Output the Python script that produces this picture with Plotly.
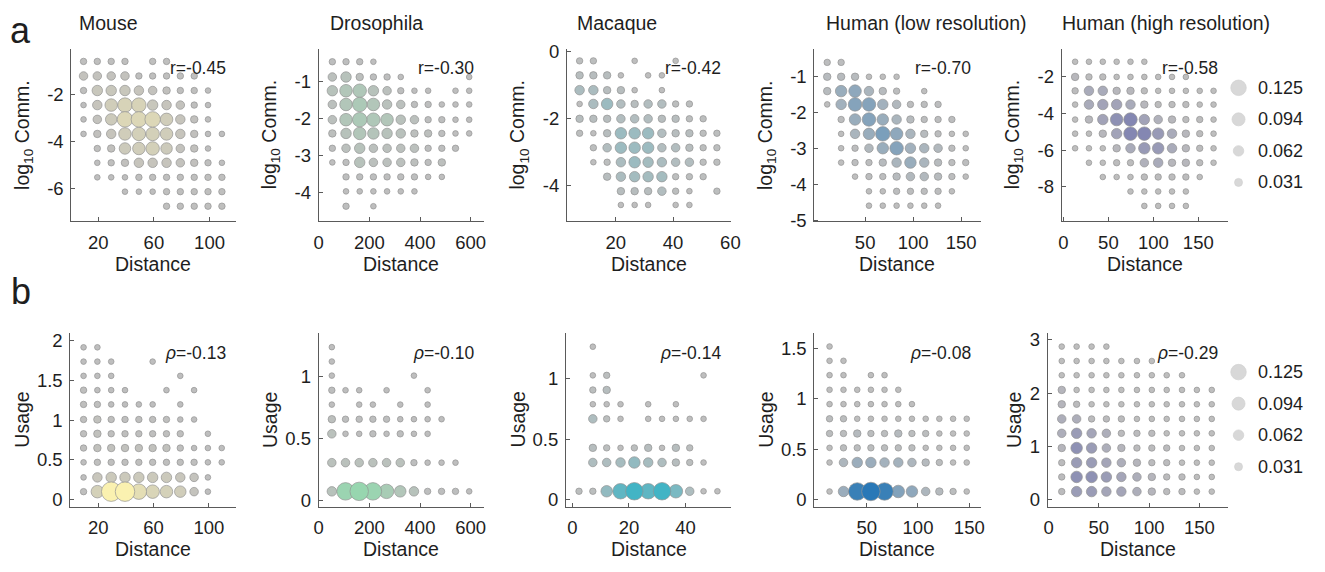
import plotly.graph_objects as go

N = None
W, H = 1325, 572

# ---------------- data ----------------
# bin centres along distance, bin centres of the y variable (top to bottom)
# and the share of node pairs falling in each cell (percent, None = empty)

species = ["Mouse", "Drosophila", "Macaque", "Human (low resolution)", "Human (high resolution)"]
comm_r = ["-0.45", "-0.30", "-0.42", "-0.70", "-0.58"]
usage_rho = ["-0.13", "-0.10", "-0.14", "-0.08", "-0.29"]
legend_values = [0.125, 0.094, 0.062, 0.031]

# --- communicability (row a) ---
mouse_comm_x = [9.4, 19.3, 29.3, 39.2, 49.2, 59.1, 69.1, 79.0, 89.0, 98.9, 108.9]
mouse_comm_y = [-0.60, -1.22, -1.84, -2.46, -3.07, -3.69, -4.31, -4.92, -5.54, -6.15, -6.77]
mouse_comm_p = [
    [1.2, 1.2, 1.2, 1.2, N, 1.2, 1.2, N, N, N, N],
    [3.8, 3.8, 3.8, 3.8, 1.2, 1.2, 1.2, 1.2, 1.2, N, N],
    [1.2, 6.2, 6.2, 6.2, 5.0, 3.8, 2.5, 1.2, 1.2, 0.2, N],
    [0.2, 5.0, 8.8, 11.2, 11.2, 6.2, 5.0, 3.8, 1.2, 0.2, N],
    [0.2, 3.8, 7.5, 12.5, 12.5, 12.5, 8.8, 5.0, 2.5, 0.2, N],
    [0.2, 2.5, 5.0, 8.8, 10.0, 10.0, 8.8, 5.0, 2.5, 0.2, 0.2],
    [N, 1.2, 2.5, 7.5, 8.8, 10.0, 7.5, 3.8, 2.5, 0.2, N],
    [N, 0.2, 1.2, 2.5, 5.0, 5.0, 5.0, 3.8, 2.5, 1.2, 0.2],
    [N, 0.2, 0.2, 0.2, 1.2, 1.2, 1.2, 1.2, 1.2, 1.2, 1.2],
    [N, N, N, 0.2, 0.2, 0.2, 1.2, 1.2, 1.2, 1.2, 1.2],
    [N, N, N, N, N, N, 1.2, 1.2, 1.2, 1.2, 1.2],
]

fly_comm_x = [54, 108, 162, 216, 270, 324, 378, 432, 486, 540, 594]
fly_comm_y = [-0.48, -0.89, -1.26, -1.63, -2.04, -2.41, -2.81, -3.19, -3.58, -3.97, -4.37]
fly_comm_p = [
    [1.2, 1.2, 1.2, 0.2, N, N, N, N, N, N, N],
    [3.8, 6.2, 2.5, 1.2, 1.2, 0.2, N, N, N, N, 0.2],
    [6.2, 8.8, 10.0, 6.2, 3.8, 1.2, 0.2, 0.2, N, 0.2, 0.2],
    [3.8, 8.8, 11.2, 8.8, 5.0, 3.8, 1.2, 1.2, 0.2, 0.2, 0.2],
    [3.8, 8.8, 11.2, 10.0, 8.8, 5.0, 3.8, 1.2, 1.2, 0.2, 0.2],
    [2.5, 6.2, 8.8, 7.5, 6.2, 5.0, 2.5, 2.5, 1.2, 0.2, 0.2],
    [1.2, 3.8, 6.2, 3.8, 3.8, 3.8, 3.8, 1.2, 1.2, 1.2, N],
    [0.2, 1.2, 6.2, 3.8, 3.8, 3.8, 2.5, 1.2, 2.5, N, N],
    [N, 1.2, 1.2, 1.2, 1.2, 1.2, 1.2, 0.2, 0.2, N, N],
    [N, 0.2, 0.2, 0.2, 0.2, 0.2, 0.2, N, N, N, N],
    [N, 1.2, N, 0.2, N, N, N, N, N, N, N],
]

macaque_comm_x = [7.4, 12.2, 17.0, 21.8, 26.6, 31.3, 36.1, 40.9, 45.7, 50.5, 55.3]
macaque_comm_y = [-0.29, -0.72, -1.16, -1.57, -2.01, -2.44, -2.87, -3.30, -3.73, -4.16, -4.57]
macaque_comm_p = [
    [1.2, 1.2, N, N, 0.2, N, N, 0.2, N, N, N],
    [2.5, 2.5, 2.5, 0.2, N, 0.2, 0.2, N, N, N, N],
    [5.0, 5.0, 2.5, 2.5, 0.2, N, 0.2, N, N, N, N],
    [0.2, 5.0, 7.5, 3.8, 2.5, 3.8, 3.8, 1.2, 1.2, N, N],
    [2.5, 2.5, 2.5, 3.8, 3.8, 3.8, 2.5, 2.5, 1.2, 1.2, N],
    [1.2, 0.2, 2.5, 7.5, 7.5, 7.5, 3.8, 2.5, 2.5, 1.2, 1.2],
    [N, 1.2, 3.8, 7.5, 7.5, 7.5, 3.8, 3.8, 2.5, 1.2, 1.2],
    [N, 0.2, 1.2, 5.0, 7.5, 6.2, 5.0, 3.8, 3.8, 1.2, 1.2],
    [N, N, 2.5, 5.0, 6.2, 6.2, 6.2, 1.2, 1.2, 1.2, N],
    [N, N, N, 2.5, 2.5, 2.5, 3.8, 1.2, 0.2, N, 1.2],
    [N, N, N, 0.2, 0.2, 0.2, N, 0.2, 0.2, N, N],
]

humlo_comm_x = [10.5, 25.0, 39.5, 54.0, 68.4, 82.8, 97.2, 111.6, 126.0, 140.4, 154.8]
humlo_comm_y = [-0.60, -1.00, -1.40, -1.77, -2.19, -2.59, -2.99, -3.39, -3.78, -4.19, -4.59]
humlo_comm_p = [
    [1.2, 1.2, N, N, N, N, N, N, N, N, N],
    [2.5, 2.5, 2.5, 0.2, 0.2, 0.2, N, N, N, N, N],
    [2.5, 7.5, 8.8, 5.0, 2.5, 1.2, N, 0.2, N, N, N],
    [0.2, 6.2, 10.0, 10.0, 6.2, 3.8, 1.2, 1.2, 1.2, N, N],
    [N, 1.2, 7.5, 10.0, 7.5, 5.0, 2.5, 1.2, 1.2, 1.2, N],
    [N, 0.2, 5.0, 7.5, 11.2, 8.8, 5.0, 2.5, 1.2, 0.2, 0.2],
    [N, 0.2, 1.2, 3.8, 7.5, 10.0, 6.2, 5.0, 3.8, 1.2, 0.2],
    [N, 0.2, 1.2, 1.2, 2.5, 5.0, 7.5, 5.0, 2.5, 1.2, 1.2],
    [N, N, 0.2, 1.2, 1.2, 2.5, 3.8, 3.8, 2.5, 1.2, 0.2],
    [N, N, N, 0.2, 0.2, 1.2, 1.2, 1.2, 1.2, 0.2, N],
    [N, N, N, 0.2, 0.2, 0.2, 0.2, 0.2, 0.2, N, N],
]

humhi_comm_x = [13.0, 28.4, 43.8, 59.2, 74.6, 90.0, 105.4, 120.8, 136.2, 151.6, 167.0]
humhi_comm_y = [-1.17, -2.00, -2.76, -3.51, -4.33, -5.10, -5.90, -6.69, -7.47, -8.26, -9.05]
humhi_comm_p = [
    [0.2, 0.2, 0.2, 0.2, 0.2, 0.2, N, N, N, N, N],
    [2.5, 1.2, 1.2, 0.2, 0.2, 0.2, 0.2, 0.2, 0.2, N, N],
    [1.2, 5.0, 5.0, 2.5, 2.5, 1.2, 0.2, 0.2, 0.2, 0.2, 0.2],
    [0.2, 5.0, 6.2, 6.2, 5.0, 2.5, 1.2, 1.2, 1.2, 0.2, 0.2],
    [0.2, 2.5, 6.2, 8.8, 10.0, 6.2, 3.8, 2.5, 1.2, 1.2, 0.2],
    [0.2, 0.2, 2.5, 6.2, 10.0, 10.0, 7.5, 5.0, 2.5, 1.2, 0.2],
    [0.2, 0.2, 0.2, 2.5, 5.0, 7.5, 7.5, 5.0, 2.5, 1.2, 0.2],
    [N, 0.2, 0.2, 1.2, 1.2, 3.8, 5.0, 2.5, 2.5, 1.2, 0.2],
    [N, N, 0.2, 0.2, 0.2, 1.2, 1.2, 1.2, 1.2, 0.2, N],
    [N, N, N, N, 0.2, 0.2, 0.2, 0.2, 0.2, N, N],
    [N, N, N, N, N, 0.2, 0.2, 0.2, 0.2, N, N],
]

# --- usage (row b) ---
mouse_use_x = [9.3, 19.3, 29.3, 39.3, 49.3, 59.3, 69.3, 79.3, 89.3, 99.3, 109.3]
mouse_use_y = [1.92, 1.74, 1.56, 1.38, 1.20, 1.01, 0.83, 0.65, 0.47, 0.28, 0.10]
mouse_use_p = [
    [0.2, 0.2, N, N, N, N, N, N, N, N, N],
    [0.2, 0.2, 0.2, N, N, 0.2, N, N, N, N, N],
    [0.2, 0.2, 0.2, N, N, N, N, 0.2, N, N, N],
    [1.2, 0.2, 0.2, 0.2, N, N, 0.2, N, 0.2, N, N],
    [1.2, 1.2, 0.2, 0.2, 0.2, 0.2, N, 0.2, N, N, N],
    [1.2, 2.5, 1.2, 1.2, 1.2, 1.2, 1.2, 0.2, 0.2, N, N],
    [1.2, 2.5, 1.2, 1.2, 1.2, 1.2, 1.2, 1.2, N, 0.2, N],
    [1.2, 2.5, 2.5, 2.5, 2.5, 2.5, 2.5, 1.2, 0.2, 0.2, 0.2],
    [0.2, 1.2, 1.2, 1.2, 1.2, 1.2, 1.2, 1.2, 1.2, 0.2, 0.2],
    [0.2, 5.0, 6.2, 6.2, 6.2, 6.2, 6.2, 5.0, 3.8, 0.2, N],
    [1.2, 8.8, 17.5, 17.5, 12.5, 10.0, 8.8, 7.5, 3.8, 0.2, N],
]

fly_use_x = [52, 106, 160, 214, 268, 322, 376, 430, 485, 540, 594]
fly_use_y = [1.236, 1.120, 1.006, 0.888, 0.772, 0.654, 0.536, 0.303, 0.071]
fly_use_p = [
    [0.2, N, N, N, N, N, N, N, N, N, N],
    [0.2, N, N, N, N, N, N, N, N, N, N],
    [0.2, N, N, N, N, N, 0.2, N, N, N, N],
    [1.2, 0.2, 0.2, N, 0.2, N, N, 0.2, N, N, N],
    [0.2, N, 0.2, 0.2, N, 0.2, N, 0.2, N, N, N],
    [2.5, 1.2, 1.2, 1.2, 1.2, 0.2, 0.2, 0.2, 0.2, N, N],
    [3.8, 0.2, 0.2, 1.2, 0.2, 1.2, 0.2, 0.2, N, N, N],
    [3.8, 3.8, 3.8, 3.8, 3.8, 3.8, 1.2, 0.2, 0.2, 0.2, N],
    [5.0, 15.0, 16.2, 15.0, 11.2, 7.5, 5.0, 1.2, 1.2, 1.2, 0.2],
]

macaque_use_x = [2.3, 7.2, 12.1, 17.0, 21.9, 26.8, 31.7, 36.6, 41.5, 46.4, 51.3]
macaque_use_y = [1.264, 1.027, 0.906, 0.788, 0.667, 0.427, 0.306, 0.068]
macaque_use_p = [
    [N, 0.2, N, N, N, N, N, N, N, N, N],
    [N, 0.2, 1.2, N, N, N, N, N, N, 0.2, N],
    [N, 1.2, 2.5, N, N, N, N, N, N, N, N],
    [N, 0.2, 0.2, 0.2, N, 0.2, N, 0.2, N, N, N],
    [N, 3.8, 1.2, 0.2, N, 0.2, 0.2, 0.2, 0.2, 0.2, N],
    [N, 2.5, 1.2, 0.2, 1.2, 2.5, 0.2, 2.5, 1.2, N, N],
    [N, 3.8, 3.8, 5.0, 7.5, 5.0, 3.8, 2.5, 1.2, 0.2, N],
    [1.2, 1.2, 7.5, 12.5, 15.0, 12.5, 15.0, 10.0, 3.8, 0.2, 0.2],
]

humlo_use_x = [13.8, 27.4, 40.8, 54.1, 67.4, 80.8, 94.1, 107.5, 120.8, 134.2, 147.5]
humlo_use_y = [1.517, 1.375, 1.233, 1.088, 0.946, 0.801, 0.655, 0.513, 0.368, 0.081]
humlo_use_p = [
    [0.2, N, N, N, N, N, N, N, N, N, N],
    [0.2, 0.2, N, N, N, N, N, N, N, N, N],
    [0.2, 0.2, N, 0.2, 0.2, N, N, N, N, N, N],
    [0.2, 0.2, 0.2, 0.2, 0.2, 0.2, N, N, N, N, N],
    [0.2, 0.2, 0.2, 0.2, 0.2, 0.2, 0.2, N, N, N, N],
    [1.2, 1.2, 0.2, 0.2, 0.2, 0.2, 0.2, 0.2, 0.2, 0.2, 0.2],
    [1.2, 1.2, 2.5, 1.2, 1.2, 2.5, 1.2, 1.2, 0.2, 0.2, 0.2],
    [0.2, 1.2, 1.2, 1.2, 1.2, 1.2, 1.2, 0.2, 0.2, 0.2, 0.2],
    [0.2, 3.8, 6.2, 6.2, 5.0, 5.0, 3.8, 2.5, 1.2, 0.2, 0.2],
    [0.2, 6.2, 15.0, 16.2, 15.0, 8.8, 7.5, 3.8, 2.5, 1.2, 0.2],
]

humhi_use_x = [13.1, 27.9, 42.8, 57.5, 72.4, 87.9, 102.7, 117.5, 132.7, 147.5, 162.3]
humhi_use_y = [2.876, 2.605, 2.338, 2.062, 1.793, 1.518, 1.248, 0.972, 0.697, 0.429, 0.154]
humhi_use_p = [
    [0.2, 0.2, 0.2, 0.2, N, N, N, N, N, N, N],
    [0.2, 0.2, 0.2, 0.2, 0.2, 0.2, 0.2, N, N, N, N],
    [0.2, 0.2, 0.2, 0.2, 0.2, 0.2, 0.2, 0.2, 0.2, N, N],
    [2.5, 0.2, 0.2, 0.2, 0.2, 0.2, 0.2, 0.2, 0.2, 0.2, 0.2],
    [2.5, 1.2, 0.2, 0.2, 0.2, 0.2, 0.2, 0.2, 0.2, 0.2, 0.2],
    [3.8, 3.8, 1.2, 1.2, 1.2, 0.2, 0.2, 0.2, 0.2, 0.2, 0.2],
    [3.8, 6.2, 5.0, 3.8, 1.2, 1.2, 1.2, 0.2, 0.2, 0.2, 0.2],
    [2.5, 7.5, 6.2, 3.8, 2.5, 1.2, 1.2, 1.2, 0.2, 0.2, 0.2],
    [1.2, 6.2, 6.2, 5.0, 3.8, 2.5, 1.2, 1.2, 0.2, 0.2, 0.2],
    [1.2, 7.5, 7.5, 6.2, 5.0, 3.8, 2.5, 1.2, 1.2, 0.2, 0.2],
    [1.2, 6.2, 6.2, 5.0, 5.0, 3.8, 2.5, 1.2, 1.2, 0.2, 0.2],
]

# ---------------- styling ----------------
FONT = "Liberation Sans, Arial, Helvetica, sans-serif"
TXT = "#1e1e1e"
AX = "#5a5a5a"
GREY = (190, 190, 190)
EDGE = "rgb(148,148,148)"
species_rgb = [(250, 241, 176), (148, 216, 174), (40, 178, 198), (30, 115, 182), (25, 35, 155)]
color_top = [0.20, 0.17]  # share at which a row's dots reach full species colour
FS_TICK, FS_LAB, FS_STAT, FS_LEG = 18.5, 19.5, 17.5, 18


def dot_size(share):
    return 5.5 + 80 * share


def dot_color(share, full, top):
    t = max(0.0, min(1.0, share / top)) ** 1.5
    r, g, b = (round(GREY[k] + (full[k] - GREY[k]) * t) for k in range(3))
    return f"rgb({r},{g},{b})"


def xdom(l, r):
    return [l / W, r / W]


def ydom(t, b):
    return [1 - b / H, 1 - t / H]


def px_x(x):
    return x / W


def px_y(y):
    return 1 - y / H


def fmt(v):
    return f"{v:g}"


panels = [
    # row a
    dict(x=mouse_comm_x, y=mouse_comm_y, p=mouse_comm_p, box=(67, 233, 42, 220),
         xr=[0.6, 118.7], yr=[-7.42, -0.06], xt=[20, 60, 100], yt=[-6, -4, -2], row=0),
    dict(x=fly_comm_x, y=fly_comm_y, p=fly_comm_p, box=(317, 484, 42, 220),
         xr=[0, 652], yr=[-4.78, -0.13], xt=[0, 200, 400, 600], yt=[-4, -3, -2, -1], row=0),
    dict(x=macaque_comm_x, y=macaque_comm_y, p=macaque_comm_p, box=(568, 734, 42, 220),
         xr=[3, 60.3], yr=[-5.06, 0.07], xt=[20, 40, 60], yt=[-4, -2, 0], row=0),
    dict(x=humlo_comm_x, y=humlo_comm_y, p=humlo_comm_p, box=(818, 986, 42, 220),
         xr=[-2.9, 170.3], yr=[-5.03, -0.22], xt=[50, 100, 150], yt=[-5, -4, -3, -2, -1], row=0),
    dict(x=humhi_comm_x, y=humhi_comm_y, p=humhi_comm_p, box=(1068, 1236, 42, 220),
         xr=[-1.9, 183], yr=[-9.9, -0.46], xt=[0, 50, 100, 150], yt=[-8, -6, -4, -2], row=0),
    # row b
    dict(x=mouse_use_x, y=mouse_use_y, p=mouse_use_p, box=(66, 233, 335, 514),
         xr=[-0.3, 119.3], yr=[-0.09, 2.1], xt=[20, 60, 100], yt=[0, 0.5, 1, 1.5, 2], row=1),
    dict(x=fly_use_x, y=fly_use_y, p=fly_use_p, box=(317, 484, 335, 514),
         xr=[0, 652], yr=[-0.053, 1.35], xt=[0, 200, 400, 600], yt=[0, 0.5, 1], row=1),
    dict(x=macaque_use_x, y=macaque_use_y, p=macaque_use_p, box=(567, 734, 335, 514),
         xr=[-2.3, 56.2], yr=[-0.06, 1.377], xt=[0, 20, 40], yt=[0, 0.5, 1], row=1),
    dict(x=humlo_use_x, y=humlo_use_y, p=humlo_use_p, box=(818, 986, 335, 514),
         xr=[-1, 161], yr=[-0.07, 1.65], xt=[50, 100, 150], yt=[0, 0.5, 1, 1.5], row=1),
    dict(x=humhi_use_x, y=humhi_use_y, p=humhi_use_p, box=(1054, 1236, 335, 514),
         xr=[-0.7, 178.4], yr=[-0.13, 3.13], xt=[0, 50, 100, 150], yt=[0, 1, 2, 3], row=1),
]

fig = go.Figure()
layout = {}
annotations = []

for i, pn in enumerate(panels):
    k = i + 1
    sp = i % 5
    cells = []
    for j, yv in enumerate(pn["y"]):
        for c, xv in enumerate(pn["x"]):
            val = pn["p"][j][c]
            if val is not None:
                cells.append((val / 100, xv, yv))
    cells.sort()  # small dots first so large ones sit on top
    fig.add_trace(go.Scatter(
        x=[c[1] for c in cells], y=[c[2] for c in cells], mode="markers",
        xaxis=f"x{k}", yaxis=f"y{k}",
        marker=dict(size=[dot_size(c[0]) for c in cells],
                    color=[dot_color(c[0], species_rgb[sp], color_top[pn["row"]]) for c in cells],
                    line=dict(color=EDGE, width=0.7), opacity=1),
        hoverinfo="skip", showlegend=False, cliponaxis=False))
    l, r, t, b = pn["box"]
    common = dict(showline=True, linecolor=AX, linewidth=1, ticks="inside", ticklen=4,
                  tickcolor=AX, tickwidth=1, showgrid=False, zeroline=False,
                  tickfont=dict(family=FONT, size=FS_TICK, color=TXT), fixedrange=True)
    layout[f"xaxis{k}"] = dict(domain=xdom(l, r), range=pn["xr"], anchor=f"y{k}",
                               tickvals=pn["xt"], ticktext=[fmt(v) for v in pn["xt"]],
                               ticklabelstandoff=4, **common)
    layout[f"yaxis{k}"] = dict(domain=ydom(t, b), range=pn["yr"], anchor=f"x{k}",
                               tickvals=pn["yt"], ticktext=[fmt(v) for v in pn["yt"]],
                               ticklabelstandoff=3, **common)
    # correlation text
    txt = f"r={comm_r[sp]}" if pn["row"] == 0 else f"<i>ρ</i>={usage_rho[sp]}"
    annotations.append(dict(x=px_x(r - 8), y=px_y(t + 20 if pn["row"] == 0 else t + 21),
                            xref="paper", yref="paper", text=txt, showarrow=False,
                            xanchor="right", yanchor="middle",
                            font=dict(family=FONT, size=FS_STAT, color=TXT)))
    # x-axis title
    annotations.append(dict(x=px_x((l + r) / 2), y=px_y(b + 44), xref="paper", yref="paper",
                            text="Distance", showarrow=False, xanchor="center", yanchor="middle",
                            font=dict(family=FONT, size=FS_LAB, color=TXT)))
    # y-axis title
    ylab = "log<sub>10</sub> Comm." if pn["row"] == 0 else "Usage"
    off = 34 if (pn["row"] == 1 and sp == 4) else 49
    annotations.append(dict(x=px_x(l - off), y=px_y((t + b) / 2), xref="paper", yref="paper",
                            text=ylab, showarrow=False, textangle=-90,
                            xanchor="center", yanchor="middle",
                            font=dict(family=FONT, size=FS_LAB, color=TXT)))

# species titles
title_left = [73, 326, 576, 828, 1066]
for name, xl in zip(species, title_left):
    annotations.append(dict(x=px_x(xl), y=px_y(15), xref="paper", yref="paper", text=name,
                            showarrow=False, xanchor="left", yanchor="middle",
                            font=dict(family=FONT, size=FS_LAB, color=TXT)))

# panel letters
for letter, yy in (("a", 23), ("b", 292)):
    annotations.append(dict(x=px_x(16), y=px_y(yy), xref="paper", yref="paper", text=letter,
                            showarrow=False, xanchor="center", yanchor="middle",
                            font=dict(family=FONT, size=36, color=TXT)))

# size legends, one per row
for li, (top, bot) in enumerate(((66, 196), (359, 489))):
    k = 11 + li
    fig.add_trace(go.Scatter(
        x=[10.7] * len(legend_values), y=list(range(len(legend_values))), mode="markers",
        xaxis=f"x{k}", yaxis=f"y{k}",
        marker=dict(size=[dot_size(v) for v in legend_values], color="rgb(200,200,200)",
                    line=dict(color="rgb(190,190,190)", width=0.7)),
        hoverinfo="skip", showlegend=False, cliponaxis=False))
    layout[f"xaxis{k}"] = dict(domain=xdom(1236, 1325), range=[0, 89], visible=False,
                               anchor=f"y{k}", fixedrange=True)
    layout[f"yaxis{k}"] = dict(domain=ydom(top, bot), range=[3.5, -0.5], visible=False,
                               anchor=f"x{k}", fixedrange=True)
    step = (bot - top) / 4
    for n, v in enumerate(legend_values):
        annotations.append(dict(x=px_x(1264), y=px_y(top + step * (n + 0.5)), xref="paper", yref="paper",
                                text=f"{v:.3f}", showarrow=False, xanchor="left", yanchor="middle",
                                font=dict(family=FONT, size=FS_LEG, color=TXT)))

fig.update_layout(
    width=W, height=H, margin=dict(l=0, r=0, t=0, b=0),
    paper_bgcolor="white", plot_bgcolor="white",
    font=dict(family=FONT, color=TXT),
    annotations=annotations, **layout)

fig.write_html("out.html", config={"displayModeBar": False})
